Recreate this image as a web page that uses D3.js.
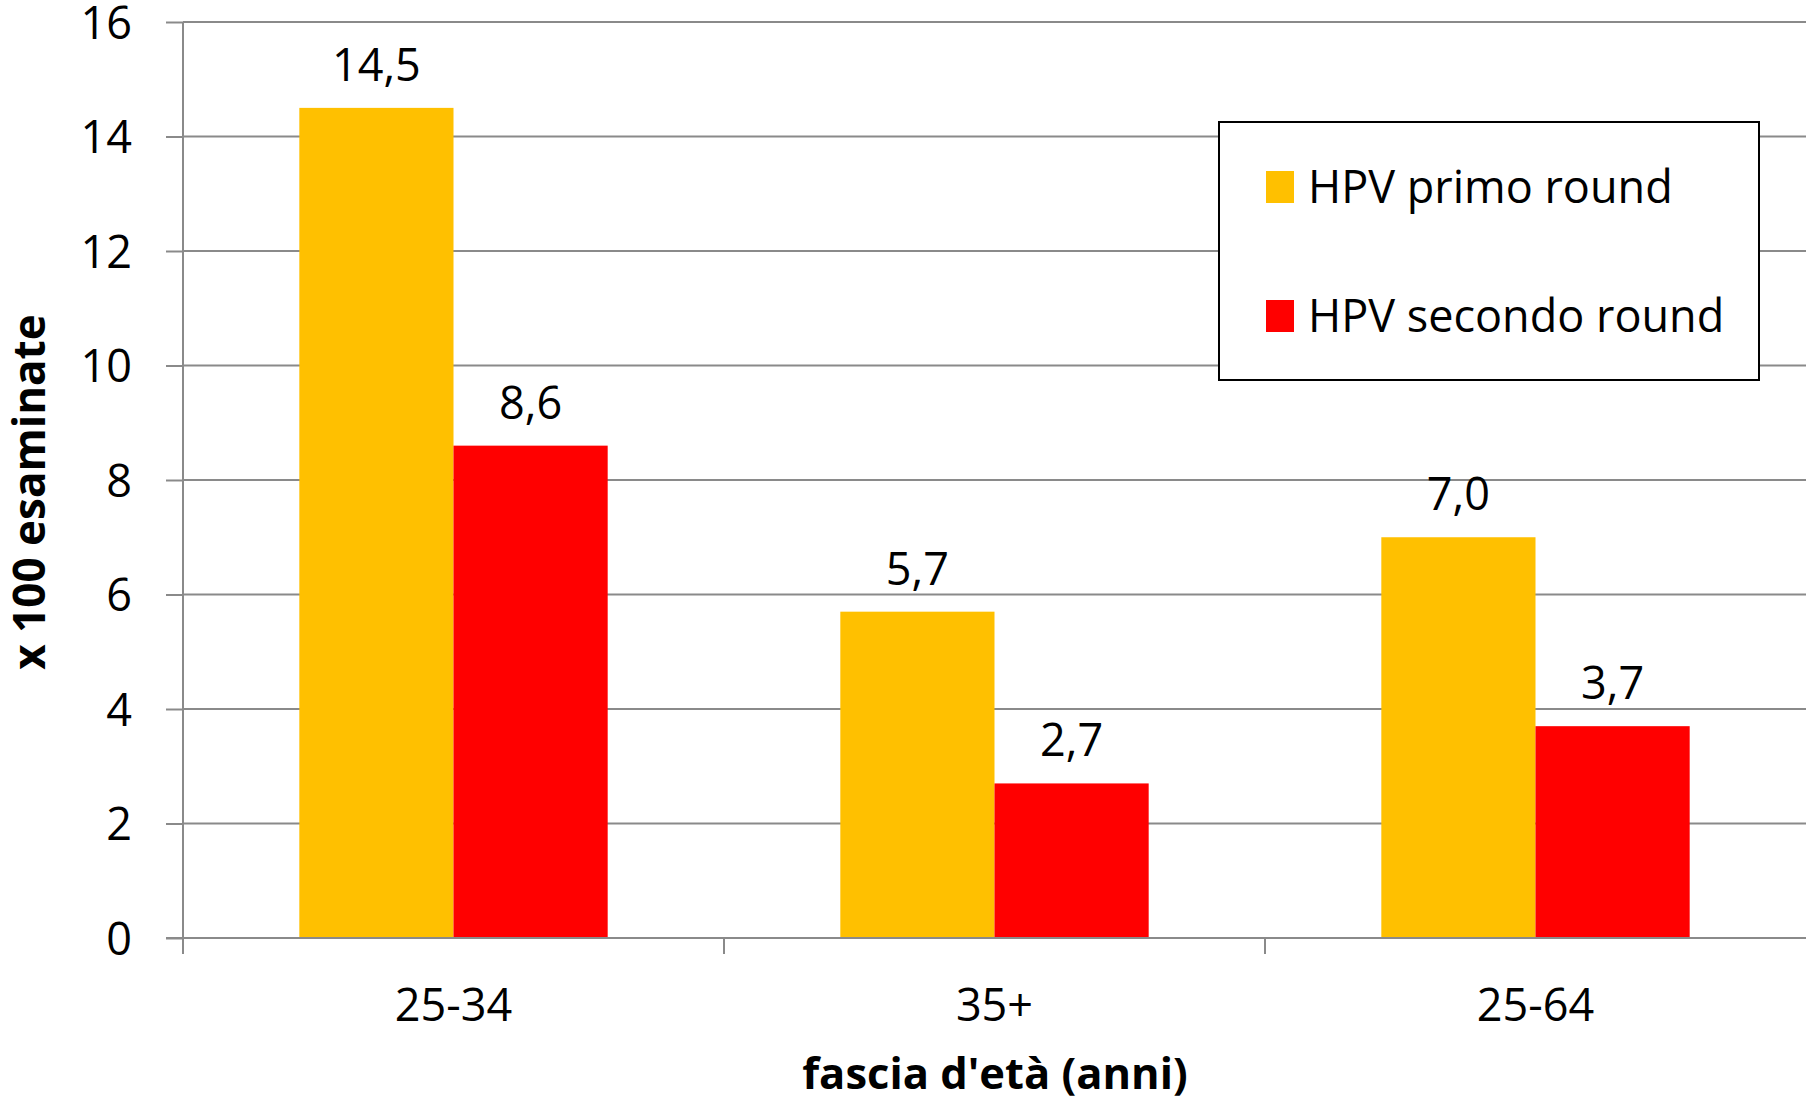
<!DOCTYPE html>
<html>
<head>
<meta charset="utf-8">
<title>HPV primo / secondo round</title>
<style>
  html, body { margin: 0; padding: 0; background: #fff; }
  svg { display: block; }
  text { font-family: "Open Sans", "Noto Sans", sans-serif; fill: #000; }
  .grid line { stroke: #8a8a8a; stroke-width: 2px; }
  .axis path, .axis line { stroke: #8a8a8a; stroke-width: 2px; }
</style>
</head>
<body>
<svg></svg>
<script src="https://d3js.org/d3.v7.min.js"></script>
<script>
  // data
  const categories = ["25-34", "35+", "25-64"];
  const series = ["HPV primo round", "HPV secondo round"];
  const primo = [14.5, 5.7, 7.0];
  const secondo = [8.6, 2.7, 3.7];
  const yTicks = [0, 2, 4, 6, 8, 10, 12, 14, 16];
  const colors = ["#FFC000", "#FF0000"];

  const width = 1806, height = 1105;
  const plotLeft = 183, plotRight = 1806, plotTop = 22, plotBottom = 938;

  const svg = d3.select("svg").attr("width", width).attr("height", height);

  const x0 = d3.scaleBand().domain(categories).range([plotLeft, plotRight]);
  const bw = x0.bandwidth();
  const x1 = d3.scaleBand().domain(series).range([bw * 0.215, bw * 0.785]);
  const y = d3.scaleLinear().domain([0, 16]).range([plotBottom, plotTop]);

  // gridlines
  svg.append("g").attr("class", "grid")
    .selectAll("line")
    .data(yTicks.filter(d => d > 0))
    .join("line")
    .attr("x1", plotLeft).attr("x2", plotRight)
    .attr("y1", d => y(d)).attr("y2", d => y(d));

  // bars
  const rows = categories.map((c, i) => ({ cat: c, vals: [primo[i], secondo[i]] }));

  const groups = svg.append("g").selectAll("g")
    .data(rows)
    .join("g")
    .attr("transform", d => `translate(${x0(d.cat)},0)`);

  groups.selectAll("rect")
    .data(d => d.vals.map((v, j) => ({ s: series[j], v, j })))
    .join("rect")
    .attr("x", d => x1(d.s))
    .attr("width", x1.bandwidth())
    .attr("y", d => y(d.v))
    .attr("height", d => y(0) - y(d.v))
    .attr("fill", d => colors[d.j]);

  groups.selectAll("text")
    .data(d => d.vals.map((v, j) => ({ s: series[j], v, j })))
    .join("text")
    .attr("x", d => x1(d.s) + x1.bandwidth() / 2)
    .attr("y", d => y(d.v) - 27)
    .attr("text-anchor", "middle")
    .style("font-size", "45px")
    .text(d => d.v.toFixed(1).replace(".", ","));

  // y axis
  const yAxis = svg.append("g").attr("class", "axis")
    .attr("transform", `translate(${plotLeft},0)`)
    .call(d3.axisLeft(y).tickValues(yTicks).tickSize(17).tickPadding(34).tickSizeOuter(0));
  yAxis.select(".domain").attr("d", `M0,${plotTop}V${plotBottom}`);
  yAxis.selectAll("text").style("font-size", "45px").attr("dy", "0.36em");

  // x axis
  const xAxis = svg.append("g").attr("class", "axis")
    .attr("transform", `translate(0,${plotBottom})`);
  xAxis.append("line")
    .attr("x1", plotLeft - 17).attr("x2", plotRight)
    .attr("y1", 0).attr("y2", 0);
  const bounds = categories.map(c => x0(c));
  xAxis.selectAll(".tk")
    .data(bounds)
    .join("line")
    .attr("class", "tk")
    .attr("x1", d => d).attr("x2", d => d)
    .attr("y1", 0).attr("y2", 16);
  xAxis.selectAll(".lbl")
    .data(categories)
    .join("text")
    .attr("class", "lbl")
    .attr("x", d => x0(d) + bw / 2)
    .attr("y", 83)
    .attr("text-anchor", "middle")
    .style("font-size", "45px")
    .text(d => d);

  // axis titles
  svg.append("text")
    .attr("transform", "translate(45,492) rotate(-90)")
    .attr("text-anchor", "middle")
    .style("font-size", "44px")
    .style("font-weight", "bold")
    .text("x 100 esaminate");

  svg.append("text")
    .attr("x", 995)
    .attr("y", 1089)
    .attr("text-anchor", "middle")
    .style("font-size", "43.5px")
    .style("font-weight", "bold")
    .text("fascia d'età (anni)");

  // legend
  const legend = svg.append("g").attr("transform", "translate(1219,122)");
  legend.append("rect")
    .attr("width", 540).attr("height", 258)
    .attr("fill", "#fff").attr("stroke", "#000").attr("stroke-width", 2);
  const li = legend.selectAll(".item")
    .data(series)
    .join("g")
    .attr("class", "item")
    .attr("transform", (d, i) => `translate(47,${49 + i * 129})`);
  li.append("rect")
    .attr("width", 28).attr("height", 32)
    .attr("fill", (d, i) => colors[i]);
  li.append("text")
    .attr("x", 42).attr("y", 32)
    .style("font-size", "45px")
    .text(d => d);
</script>
</body>
</html>
